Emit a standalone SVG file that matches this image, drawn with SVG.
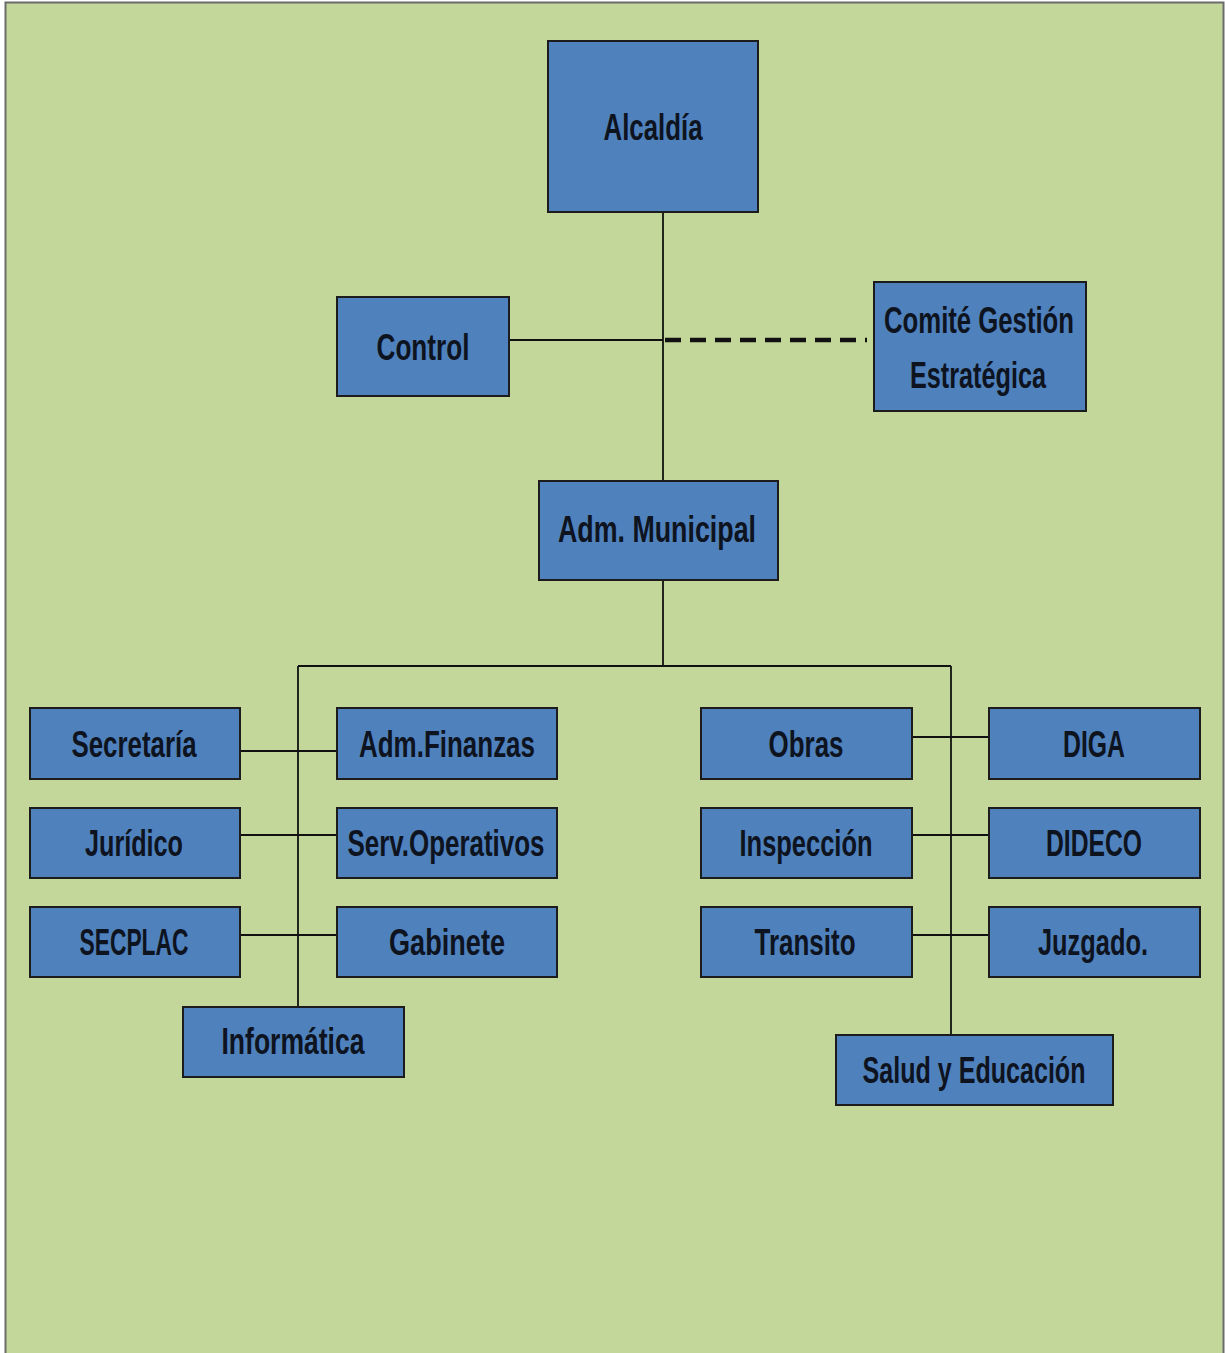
<svg xmlns="http://www.w3.org/2000/svg" width="1225" height="1353" viewBox="0 0 1225 1353">
  <style>
    .box { fill: #4f81bd; stroke: #1c1c1c; stroke-width: 2; }
    .lbl { font-family: "Liberation Sans", Arial, sans-serif; font-weight: bold; font-size: 37px; fill: #0e1320; text-anchor: middle; }
    .ln { stroke: #111; stroke-width: 1.8; fill: none; }
    .dash { stroke: #111; stroke-width: 4.5; stroke-dasharray: 16 9; fill: none; }
  </style>
  <rect x="0" y="0" width="1225" height="1353" fill="#ffffff"/>
  <rect x="5.5" y="2.5" width="1218" height="1360" fill="#c4d79b" stroke="#6b6b6b" stroke-width="2"/>

  <g id="connectors">
    <path class="ln" d="M663 212 V481"/>
    <path class="ln" d="M509 340 H663"/>
    <path class="dash" d="M665 340 H867"/>
    <path class="ln" d="M663 580 V666 M298 666 H951"/>
    <path class="ln" d="M298 666 V1007"/>
    <path class="ln" d="M951 666 V1035"/>
    <path class="ln" d="M240 751 H337 M240 835 H337 M240 935 H337"/>
    <path class="ln" d="M912 737 H989 M912 835 H989 M912 935 H989"/>
  </g>

  <g id="alcaldia">
    <rect class="box" x="548" y="41" width="210" height="171"/>
    <text class="lbl" x="653" y="140" textLength="99" lengthAdjust="spacingAndGlyphs">Alcaldía</text>
  </g>
  <g id="control">
    <rect class="box" x="337" y="297" width="172" height="99"/>
    <text class="lbl" x="423" y="360" textLength="93" lengthAdjust="spacingAndGlyphs">Control</text>
  </g>
  <g id="comite">
    <rect class="box" x="874" y="282" width="212" height="129"/>
    <text class="lbl" x="979" y="333" textLength="190" lengthAdjust="spacingAndGlyphs">Comité Gestión</text>
    <text class="lbl" x="978" y="388" textLength="136" lengthAdjust="spacingAndGlyphs">Estratégica</text>
  </g>
  <g id="adm-municipal">
    <rect class="box" x="539" y="481" width="239" height="99"/>
    <text class="lbl" x="657" y="542" textLength="198" lengthAdjust="spacingAndGlyphs">Adm. Municipal</text>
  </g>

  <g id="secretaria">
    <rect class="box" x="30" y="708" width="210" height="71"/>
    <text class="lbl" x="134" y="757" textLength="125" lengthAdjust="spacingAndGlyphs">Secretaría</text>
  </g>
  <g id="juridico">
    <rect class="box" x="30" y="808" width="210" height="70"/>
    <text class="lbl" x="134" y="856" textLength="98" lengthAdjust="spacingAndGlyphs">Jurídico</text>
  </g>
  <g id="secplac">
    <rect class="box" x="30" y="907" width="210" height="70"/>
    <text class="lbl" x="134" y="955" textLength="109" lengthAdjust="spacingAndGlyphs">SECPLAC</text>
  </g>
  <g id="adm-finanzas">
    <rect class="box" x="337" y="708" width="220" height="71"/>
    <text class="lbl" x="447" y="757" textLength="176" lengthAdjust="spacingAndGlyphs">Adm.Finanzas</text>
  </g>
  <g id="serv-operativos">
    <rect class="box" x="337" y="808" width="220" height="70"/>
    <text class="lbl" x="446" y="856" textLength="197" lengthAdjust="spacingAndGlyphs">Serv.Operativos</text>
  </g>
  <g id="gabinete">
    <rect class="box" x="337" y="907" width="220" height="70"/>
    <text class="lbl" x="447" y="955" textLength="116" lengthAdjust="spacingAndGlyphs">Gabinete</text>
  </g>
  <g id="informatica">
    <rect class="box" x="183" y="1007" width="221" height="70"/>
    <text class="lbl" x="293" y="1054" textLength="143" lengthAdjust="spacingAndGlyphs">Informática</text>
  </g>

  <g id="obras">
    <rect class="box" x="701" y="708" width="211" height="71"/>
    <text class="lbl" x="806" y="757" textLength="75" lengthAdjust="spacingAndGlyphs">Obras</text>
  </g>
  <g id="inspeccion">
    <rect class="box" x="701" y="808" width="211" height="70"/>
    <text class="lbl" x="806" y="856" textLength="133" lengthAdjust="spacingAndGlyphs">Inspección</text>
  </g>
  <g id="transito">
    <rect class="box" x="701" y="907" width="211" height="70"/>
    <text class="lbl" x="805" y="955" textLength="101" lengthAdjust="spacingAndGlyphs">Transito</text>
  </g>
  <g id="diga">
    <rect class="box" x="989" y="708" width="211" height="71"/>
    <text class="lbl" x="1094" y="757" textLength="62" lengthAdjust="spacingAndGlyphs">DIGA</text>
  </g>
  <g id="dideco">
    <rect class="box" x="989" y="808" width="211" height="70"/>
    <text class="lbl" x="1094" y="856" textLength="96" lengthAdjust="spacingAndGlyphs">DIDECO</text>
  </g>
  <g id="juzgado">
    <rect class="box" x="989" y="907" width="211" height="70"/>
    <text class="lbl" x="1093" y="955" textLength="110" lengthAdjust="spacingAndGlyphs">Juzgado.</text>
  </g>
  <g id="salud-educacion">
    <rect class="box" x="836" y="1035" width="277" height="70"/>
    <text class="lbl" x="974" y="1083" textLength="223" lengthAdjust="spacingAndGlyphs">Salud y Educación</text>
  </g>
</svg>
